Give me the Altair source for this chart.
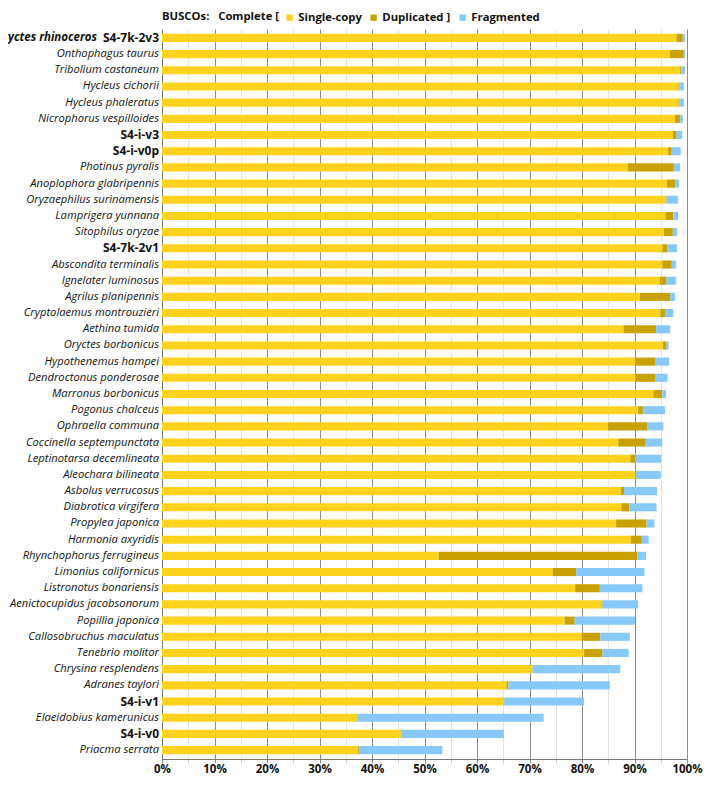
import altair as alt
import pandas as pd

names = [
    "Oryctes rhinoceros S4-7k-2v3", "Onthophagus taurus", "Tribolium castaneum",
    "Hycleus cichorii", "Hycleus phaleratus", "Nicrophorus vespilloides",
    "S4-i-v3", "S4-i-v0p", "Photinus pyralis", "Anoplophora glabripennis",
    "Oryzaephilus surinamensis", "Lamprigera yunnana", "Sitophilus oryzae",
    "S4-7k-2v1", "Abscondita terminalis", "Ignelater luminosus",
    "Agrilus planipennis", "Cryptolaemus montrouzieri", "Aethina tumida",
    "Oryctes borbonicus", "Hypothenemus hampei", "Dendroctonus ponderosae",
    "Marronus borbonicus", "Pogonus chalceus", "Ophraella communa",
    "Coccinella septempunctata", "Leptinotarsa decemlineata", "Aleochara bilineata",
    "Asbolus verrucosus", "Diabrotica virgifera", "Propylea japonica",
    "Harmonia axyridis", "Rhynchophorus ferrugineus", "Limonius californicus",
    "Listronotus bonariensis", "Aenictocupidus jacobsonorum", "Popillia japonica",
    "Callosobruchus maculatus", "Tenebrio molitor", "Chrysina resplendens",
    "Adranes taylori", "S4-i-v1", "Elaeidobius kamerunicus", "S4-i-v0",
    "Priacma serrata",
]
single = [
    98.0, 96.7, 98.7, 98.4, 98.4, 97.7, 97.3, 96.4, 88.7, 96.2,
    96.0, 95.9, 95.6, 95.3, 95.3, 94.8, 91.0, 94.9, 87.9, 95.4,
    90.1, 90.2, 93.6, 90.7, 84.9, 86.9, 89.2, 90.2, 87.4, 87.5,
    86.5, 89.3, 52.7, 74.4, 78.7, 83.7, 76.7, 79.9, 80.4, 70.5,
    65.6, 65.1, 37.1, 45.5, 37.3,
]
duplicated = [
    1.2, 2.7, 0.2, 0.2, 0.2, 1.0, 0.7, 0.7, 8.8, 1.6,
    0.1, 1.5, 1.7, 0.9, 1.8, 1.3, 5.8, 0.9, 6.2, 0.7,
    3.8, 3.7, 1.7, 0.9, 7.6, 5.1, 0.9, 0.1, 0.6, 1.5,
    5.8, 2.1, 37.8, 4.5, 4.7, 0.2, 1.9, 3.6, 3.5, 0.1,
    0.4, 0.1, 0.1, 0.1, 0.2,
]
fragmented = [
    0.4, 0.2, 0.7, 0.8, 0.8, 0.5, 1.1, 1.7, 1.2, 0.7,
    2.2, 0.9, 0.8, 1.9, 0.8, 1.8, 0.9, 1.6, 2.7, 0.4,
    2.7, 2.4, 0.7, 4.2, 3.0, 3.3, 5.0, 4.7, 6.3, 5.2,
    1.5, 1.3, 1.7, 13.0, 8.1, 6.8, 11.5, 5.6, 5.0, 16.7,
    19.3, 15.2, 35.5, 19.5, 15.9,
]
bold_names = ["S4-i-v3", "S4-i-v0p", "S4-7k-2v1", "S4-i-v1", "S4-i-v0"]
categories = ["Single-copy", "Duplicated", "Fragmented"]
colors = ["#FFD21E", "#C9A100", "#87C9FA"]

rows = []
for n, s, d, f in zip(names, single, duplicated, fragmented):
    for i, (cat, v) in enumerate(zip(categories, [s, d, f])):
        rows.append({"name": n, "cat": cat, "pct": v, "ord": i})
df = pd.DataFrame(rows)

lab_rows = []
for n in names:
    if n == names[0]:
        lab_rows.append({"name": n, "text": "S4-7k-2v3", "style": "bold"})
        lab_rows.append({"name": n, "text": "Oryctes rhinoceros", "style": "bolditalic"})
    elif n in bold_names:
        lab_rows.append({"name": n, "text": n, "style": "bold"})
    else:
        lab_rows.append({"name": n, "text": n, "style": "italic"})
labels = pd.DataFrame(lab_rows)

FONT = "Open Sans"
yscale = alt.Scale(domain=names, paddingInner=0.5, paddingOuter=0.3)

bars = alt.Chart(df).mark_bar().encode(
    x=alt.X(
        "pct:Q", stack="zero",
        scale=alt.Scale(domain=[0, 100], nice=False),
        axis=alt.Axis(
            title=None,
            values=list(range(0, 101, 5)),
            labelExpr="datum.value % 10 === 0 ? datum.value + '%' : ''",
            labelFont=FONT, labelFontWeight="bold", labelFontSize=11.5,
            labelColor="#111", labelPadding=0, labelFlush=False,
            gridColor={"condition": {"test": "datum.value % 10 === 0", "value": "#8c8c8c"}, "value": "#e2e2e2"},
            tickColor={"condition": {"test": "datum.value % 10 === 0", "value": "#8c8c8c"}, "value": "#d0d0d0"},
            tickSize=4, domainColor="#777", gridWidth=1,
        ),
    ),
    y=alt.Y("name:N", scale=yscale,
            axis=alt.Axis(title=None, labels=False, ticks=False, grid=False, domainColor="#777")),
    color=alt.Color(
        "cat:N",
        scale=alt.Scale(domain=categories, range=colors),
        legend=alt.Legend(
            title="BUSCOs:\u00a0\u00a0 Complete [", titleOrient="left", orient="none",
            legendX=0, legendY=-17, direction="horizontal",
            labelExpr="datum.label == 'Duplicated' ? 'Duplicated ]' : datum.label",
            symbolType="square", symbolSize=40, symbolStrokeWidth=0,
            labelFont=FONT, labelFontWeight="bold", labelFontSize=11.3, labelColor="#111",
            titleFont=FONT, titleFontWeight="bold", titleFontSize=11.3, titleColor="#111",
            titleBaseline="middle", titlePadding=5,
            labelOffset=3, columnPadding=6, symbolOffset=0,
        ),
    ),
    order=alt.Order("ord:Q"),
)

def text_layer(style, dx, font_style, font_weight, size):
    return alt.Chart(labels).transform_filter(
        alt.datum.style == style
    ).mark_text(
        align="right", baseline="middle", dx=dx, font=FONT, fontSize=size,
        fontStyle=font_style, fontWeight=font_weight, color="#111",
    ).encode(
        x=alt.value(-3),
        y=alt.Y("name:N", scale=yscale),
        text="text:N",
    )

chart = alt.layer(
    bars,
    text_layer("italic", 0, "italic", "normal", 11.2),
    text_layer("bold", 0, "normal", "bold", 12),
    text_layer("bolditalic", -62, "italic", "bold", 11.5),
).properties(
    width=525, height=730,
    autosize=alt.AutoSizeParams(type="none"),
    padding={"left": 154, "top": 21, "right": 16, "bottom": 15},
).configure_view(stroke=None)

chart.save("out.html", embed_options={"renderer": "svg", "actions": False})
